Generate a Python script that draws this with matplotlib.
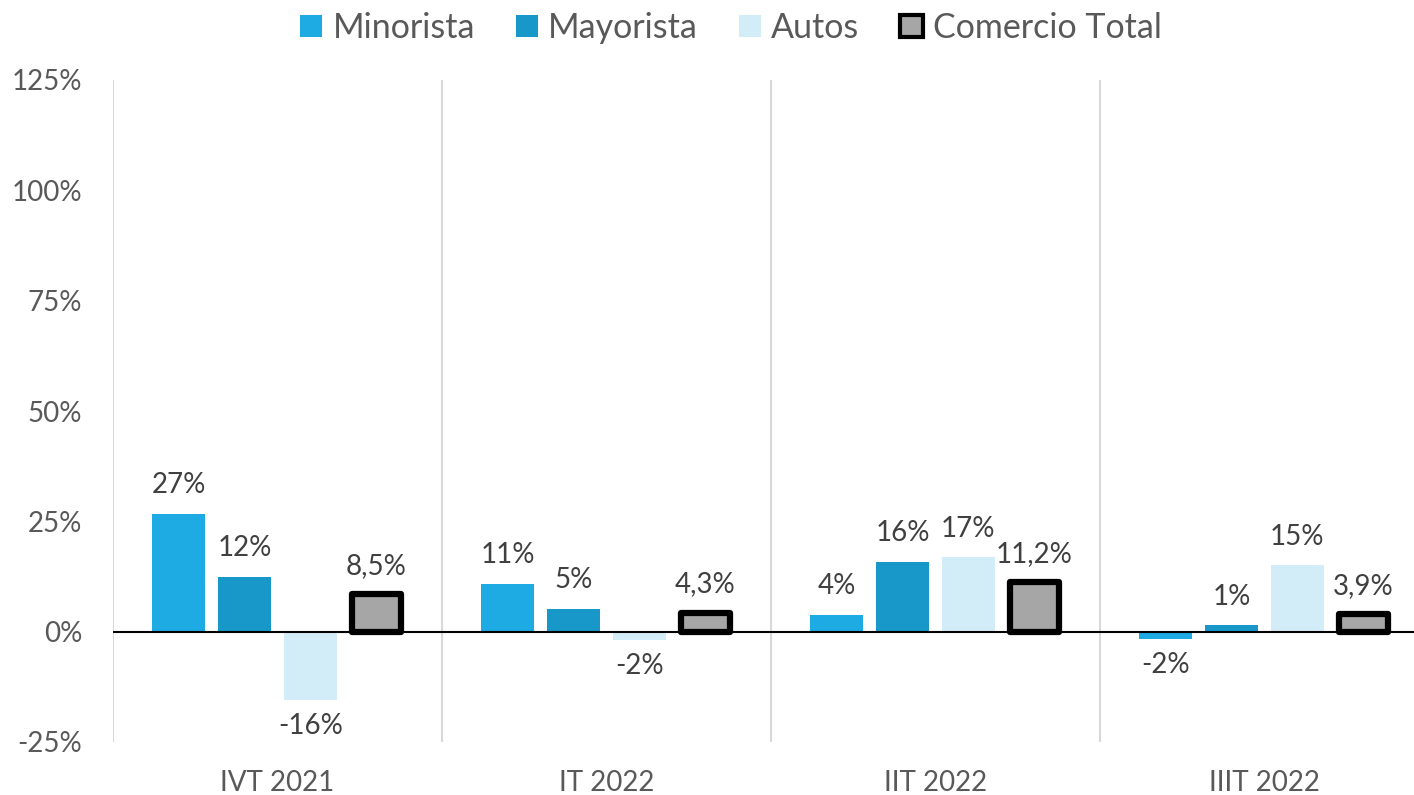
import numpy as np
import matplotlib.pyplot as plt
from matplotlib.patches import Patch

plt.rcParams['font.family'] = ['Lato', 'DejaVu Sans']

categories = ['IVT 2021', 'IT 2022', 'IIT 2022', 'IIIT 2022']
minorista = [26.7, 10.9, 3.8, -1.6]
mayorista = [12.4, 5.2, 15.8, 1.4]
autos = [-15.5, -1.9, 16.9, 15.1]
total = [8.5, 4.3, 11.2, 3.9]
yticks = [-25, 0, 25, 50, 75, 100, 125]

c_min = '#1eaae2'
c_may = '#1898c8'
c_aut = '#d3edf8'
c_tot = '#a6a6a6'
txt = '#595959'
lbl = '#404040'

fig = plt.figure(figsize=(14.14, 7.95), dpi=100)
ax = fig.add_axes([113 / 1414, 1 - 742 / 795, 1316 / 1414, (742 - 80) / 795])

x = np.arange(len(categories))
w = 0.161
off = [-0.3, -0.1, 0.1, 0.3]

series = [
    (minorista, c_min, 'Minorista', False),
    (mayorista, c_may, 'Mayorista', False),
    (autos, c_aut, 'Autos', False),
    (total, c_tot, 'Comercio Total', True),
]

for (vals, col, name, is_tot), o in zip(series, off):
    if is_tot:
        ax.bar(x + o, vals, w * 0.93, color=col, edgecolor='black', linewidth=4.5, zorder=3,
               joinstyle='round')
    else:
        ax.bar(x + o, vals, w, color=col, zorder=3)
    for xi, v in zip(x + o, vals):
        if is_tot:
            s = f'{v:.1f}%'.replace('.', ',')
        else:
            s = f'{round(v):.0f}%'
        if v >= 0:
            ax.text(xi, v + 3.5, s, ha='center', va='bottom', fontsize=20, color=lbl)
        else:
            ax.text(xi, v - 3.0, s, ha='center', va='top', fontsize=20, color=lbl)

ax.axhline(0, color='black', lw=1.5, zorder=4)
for b in np.arange(-0.5, len(categories), 1):
    ax.axvline(b, color='#d9d9d9', lw=1.5, zorder=1)

ax.set_xlim(-0.5, len(categories) - 0.5)
ax.set_ylim(-25, 125)
ax.set_yticks(yticks)
ax.set_yticklabels([f'{t}%' for t in yticks], fontsize=20, color=txt)
ax.set_xticks(x)
ax.set_xticklabels(categories, fontsize=20, color=txt)
ax.tick_params(axis='x', length=0, pad=20)
ax.tick_params(axis='y', length=0, pad=22)
for sp in ax.spines.values():
    sp.set_visible(False)

handles = [Patch(facecolor=c_min), Patch(facecolor=c_may), Patch(facecolor=c_aut),
           Patch(facecolor=c_tot, edgecolor='black', linewidth=3)]
leg = fig.legend(handles, [s[2] for s in series], loc='center', bbox_to_anchor=(731 / 1414, 1 - 28 / 795),
                 ncol=4, frameon=False, fontsize=24.5, handlelength=0.65, handleheight=0.65,
                 handletextpad=0.3, columnspacing=1.2)
for t in leg.get_texts():
    t.set_color(txt)

fig.savefig('out.png', dpi=100)
